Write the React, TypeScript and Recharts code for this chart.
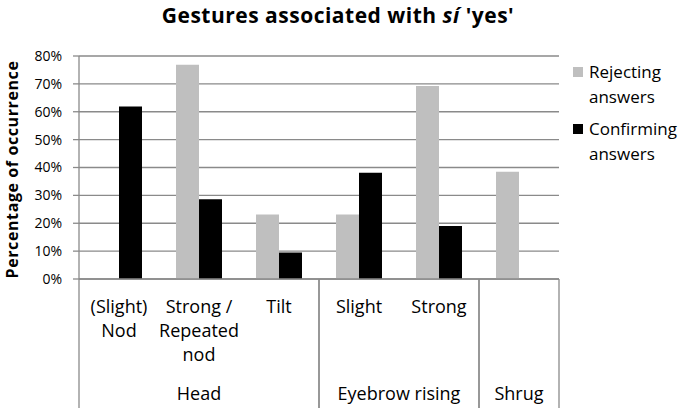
import React from "react";
import { BarChart, Bar, XAxis, YAxis, CartesianGrid, Legend } from "recharts";

// categories along the x axis, with their wrapped tick labels and group
const categories = ["(Slight) Nod", "Strong / Repeated nod", "Tilt", "Slight", "Strong", "Shrug"];
const labelLines = [["(Slight)", "Nod"], ["Strong /", "Repeated", "nod"], ["Tilt"], ["Slight"], ["Strong"], []];
const groups = ["Head", "Head", "Head", "Eyebrow rising", "Eyebrow rising", "Shrug"];

// percentage of occurrence
const rejecting = [0, 76.9, 23.1, 23.1, 69.2, 38.5];
const confirming = [61.9, 28.6, 9.5, 38.1, 19.0, 0];

const yTicks = [0, 10, 20, 30, 40, 50, 60, 70, 80];

const seriesNames = ["Rejecting answers", "Confirming answers"];
const GRAY = "#bfbfbf";
const BLACK = "#000000";
const LINE = "#8a8a8a";
const FONT = "'Open Sans', sans-serif";

const W = 680;
const H = 408;
const margin = { top: 56, right: 121, bottom: 0, left: 0 };
const Y_AXIS_W = 79;
const X_AXIS_H = 129;
const PLOT_W = W - margin.left - margin.right - Y_AXIS_W;

const data = categories.map((c, i) => ({
  key: c,
  rejecting: rejecting[i],
  confirming: confirming[i],
}));

function CategoryTick(props: any) {
  const { x, y, payload } = props;
  const i = categories.indexOf(payload.value);
  const band = PLOT_W / categories.length;
  const first = i === 0 || groups[i] !== groups[i - 1];
  const last = i === categories.length - 1 || groups[i] !== groups[i + 1];
  const count = groups.filter((g) => g === groups[i]).length;
  const left = x - band / 2;
  return (
    <g>
      {labelLines[i].map((t, k) => (
        <text key={k} x={x} y={y + 34 + k * 24} textAnchor="middle" fontSize={18} fontFamily={FONT} fill="#000">
          {t}
        </text>
      ))}
      {first && (
        <>
          <line x1={left} x2={left} y1={y} y2={H} stroke={LINE} strokeWidth={1.3} />
          <text x={left + (count * band) / 2} y={y + 121} textAnchor="middle" fontSize={18} fontFamily={FONT} fill="#000">
            {groups[i]}
          </text>
        </>
      )}
      {last && <line x1={x + band / 2} x2={x + band / 2} y1={y} y2={H} stroke={LINE} strokeWidth={1.3} />}
    </g>
  );
}

function LegendContent(props: any) {
  const items = [...(props.payload || [])].sort(
    (a: any, b: any) => seriesNames.indexOf(a.value) - seriesNames.indexOf(b.value)
  );
  return (
    <div style={{ fontFamily: FONT, fontSize: 17, color: "#000" }}>
      {items.map((p: any, k: number) => {
        const words = String(p.value).split(" ");
        return (
          <div key={k} style={{ position: "relative", paddingLeft: 16, lineHeight: "25px", marginBottom: 7 }}>
            <span
              style={{ position: "absolute", left: 0, top: 8, width: 10, height: 10, background: p.color }}
            />
            {words.map((w, j) => (
              <div key={j}>{w}</div>
            ))}
          </div>
        );
      })}
    </div>
  );
}

export default function App() {
  return (
    <div style={{ position: "fixed", left: 0, top: 0, width: W, height: H, background: "#fff" }}>
      <svg width={W} height={40} style={{ position: "absolute", left: 0, top: 0 }}>
        <text
          x={338}
          y={22.5}
          textAnchor="middle"
          fontSize={21}
          letterSpacing={0.5}
          fontWeight="bold"
          fontFamily={FONT}
          fill="#000"
        >
          Gestures associated with <tspan fontStyle="italic">sí</tspan> 'yes'
        </text>
      </svg>
      <BarChart width={W} height={H} data={data} margin={margin} barCategoryGap={17} barGap={0}>
        <CartesianGrid vertical={false} stroke={LINE} strokeWidth={1.3} />
        <XAxis
          dataKey="key"
          interval={0}
          height={X_AXIS_H}
          tickLine={false}
          tickSize={0}
          tickMargin={0}
          axisLine={{ stroke: LINE, strokeWidth: 1.3 }}
          tick={<CategoryTick />}
        />
        <YAxis
          width={Y_AXIS_W}
          domain={[0, 80]}
          ticks={yTicks}
          interval={0}
          tickFormatter={(v) => `${v}%`}
          tickSize={6}
          tickMargin={11}
          tick={{ fill: "#000", fontSize: 14, fontFamily: FONT }}
          tickLine={{ stroke: LINE, strokeWidth: 1.3 }}
          axisLine={{ stroke: LINE, strokeWidth: 1.3 }}
          label={{
            content: (lp: any) => {
              const vb = lp.viewBox;
              const cy = vb.y + vb.height / 2 + 2;
              return (
                <text
                  x={17.5}
                  y={cy}
                  transform={`rotate(-90, 17.5, ${cy})`}
                  textAnchor="middle"
                  fontSize={16}
                  letterSpacing={0.6}
                  fontWeight="bold"
                  fontFamily={FONT}
                  fill="#000"
                >
                  Percentage of occurrence
                </text>
              );
            },
          }}
        />
        <Legend
          layout="vertical"
          align="center"
          verticalAlign="middle"
          wrapperStyle={{ left: 573, top: 59, width: 107 }}
          content={<LegendContent />}
        />
        <Bar dataKey="rejecting" name={seriesNames[0]} fill={GRAY} isAnimationActive={false} />
        <Bar dataKey="confirming" name={seriesNames[1]} fill={BLACK} isAnimationActive={false} />
      </BarChart>
    </div>
  );
}
